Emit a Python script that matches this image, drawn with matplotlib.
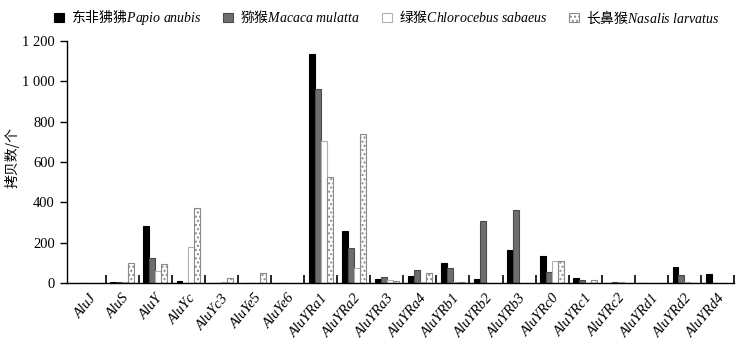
import numpy as np
import matplotlib
matplotlib.use('Agg')
import matplotlib.pyplot as plt
from matplotlib.ticker import FuncFormatter, FixedLocator

plt.rcParams['font.family'] = ['Liberation Serif', 'Noto Sans CJK SC']
plt.rcParams['mathtext.fontset'] = 'custom'
plt.rcParams['mathtext.it'] = 'Liberation Serif:italic'
plt.rcParams['mathtext.rm'] = 'Noto Sans CJK SC'
plt.rcParams['hatch.linewidth'] = 1.0

# ---------------- data ----------------
categories = ['AluJ', 'AluS', 'AluY', 'AluYc', 'AluYc3', 'AluYe5', 'AluYe6',
              'AluYRa1', 'AluYRa2', 'AluYRa3', 'AluYRa4', 'AluYRb1', 'AluYRb2',
              'AluYRb3', 'AluYRc0', 'AluYRc1', 'AluYRc2', 'AluYRd1', 'AluYRd2', 'AluYRd4']
papio   = [0, 8, 283, 11, 0, 0, 0, 1134, 260, 23, 38, 99, 21, 165, 135, 26, 2, 0, 81, 44]
macaca  = [0, 5, 124, 2, 0, 0, 3, 961, 176, 30, 67, 74, 308, 362, 54, 15, 8, 0, 43, 0]
chloro  = [0, 5, 62, 181, 5, 3, 0, 704, 74, 18, 5, 8, 2, 0, 110, 3, 5, 0, 5, 0]
nasalis = [0, 98, 94, 374, 28, 49, 0, 526, 740, 10, 49, 8, 2, 0, 108, 18, 0, 0, 0, 0]
series_names = ['东非狒狒$\\it{Papio\\ anubis}$', '猕猴$\\it{Macaca\\ mulatta}$',
                '绿猴$\\it{Chlorocebus\\ sabaeus}$', '长鼻猴$\\it{Nasalis\\ larvatus}$']
yticks = [0, 200, 400, 600, 800, 1000, 1200]

# ---------------- figure ----------------
fig = plt.figure(figsize=(7.48, 3.47), dpi=100)
ax = fig.add_axes([0.0892, 0.1836, 0.8921, 0.6991])

x = np.arange(len(categories))
w = 0.18
offs = np.array([-1.5, -0.5, 0.5, 1.5]) * w

styles = [dict(color='black', edgecolor='black'),
          dict(color='#6e6e6e', edgecolor='#4a4a4a'),
          dict(color='white', edgecolor='#b0b0b0'),
          dict(color='white', edgecolor='#8a8a8a', hatch='....')]

handles = []
for vals, o, st, name in zip([papio, macaca, chloro, nasalis], offs, styles, series_names):
    b = ax.bar(x + o, vals, width=w, linewidth=0.8, label=name, **st)
    handles.append(b)

ax.set_xlim(-0.68, len(categories) - 0.5)
ax.set_ylim(0, 1200)
ax.yaxis.set_major_locator(FixedLocator(yticks))
ax.yaxis.set_major_formatter(FuncFormatter(lambda v, p: f'{int(v):,}'.replace(',', ' ')))

ax.spines['top'].set_visible(False)
ax.spines['right'].set_visible(False)
ax.spines['left'].set_linewidth(1.0)
ax.spines['bottom'].set_linewidth(1.0)

ax.set_xticks(x)
ax.set_xticklabels(categories, rotation=50, ha='right', rotation_mode='anchor',
                   fontstyle='italic', fontsize=10.5)
ax.tick_params(axis='x', which='major', length=0, pad=6)
ax.xaxis.set_minor_locator(FixedLocator(list(x + 0.5)))
ax.tick_params(axis='x', which='minor', direction='in', length=6, width=1.2)
ax.tick_params(axis='y', direction='out', length=5, width=1.0, labelsize=10.5)
ax.set_ylabel('拷贝数/个', fontsize=10, family=['Noto Sans CJK SC'])
ax.yaxis.set_label_coords(-0.07, 0.52)

fig.legend(handles=handles, loc='upper center', bbox_to_anchor=(0.517, 1.015), ncol=4,
           frameon=False, prop={'family': 'Noto Sans CJK SC', 'size': 10},
           handlelength=0.7, handleheight=0.7, handletextpad=0.5, columnspacing=1.6)

fig.savefig('out.png', dpi=100)
